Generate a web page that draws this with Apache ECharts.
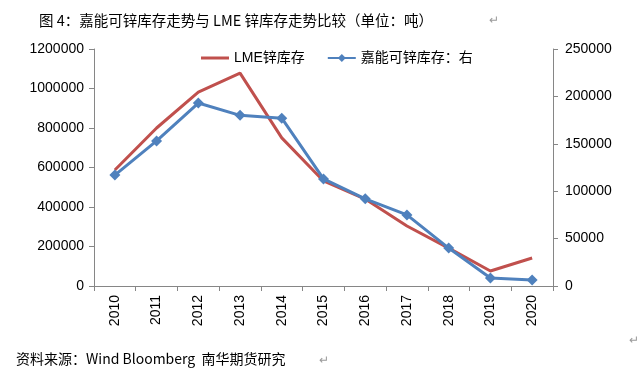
<!DOCTYPE html>
<html><head><meta charset="utf-8">
<script src="https://cdn.jsdelivr.net/npm/echarts@6/dist/echarts.min.js"></script>
<style>html,body{margin:0;padding:0;background:#fff}#c{width:643px;height:371px}</style>
</head><body><div id="c"></div>
<script>
var years = ['2010','2011','2012','2013','2014','2015','2016','2017','2018','2019','2020'];
var lmeStock = [587000, 800000, 982000, 1078000, 750000, 532000, 440000, 304000, 192000, 76000, 142000];
var glencoreStock = [117000, 153000, 193000, 180000, 177000, 113000, 92000, 75000, 40000, 8400, 6300];
var leftTicks = [0, 1200000, 200000];
var rightTicks = [0, 250000, 50000];

var chart = echarts.init(document.getElementById('c'));
var font = '"Liberation Sans", Arial, "Noto Sans CJK SC", sans-serif';
function plain(v) { return String(v); }
chart.setOption({
  animation: false,
  backgroundColor: '#fff',
  textStyle: {fontFamily: font},
  title: [
    {text: '图 4：嘉能可锌库存走势与 LME 锌库存走势比较（单位：吨）', left: 34, top: 8,
     textStyle: {fontSize: 14.5, fontWeight: 'normal', color: '#000', fontFamily: '"Noto Sans CJK SC", sans-serif'}},
    {text: '↵', left: 484, top: 10, textStyle: {fontSize: 12, fontWeight: 'normal', color: '#999'}},
    {text: '资料来源：Wind Bloomberg  南华期货研究', left: 11, top: 347,
     textStyle: {fontSize: 14, fontWeight: 'normal', color: '#000', fontFamily: '"Noto Sans CJK SC", sans-serif'}},
    {text: '↵', left: 314, top: 350, textStyle: {fontSize: 12, fontWeight: 'normal', color: '#999'}},
    {text: '↵', left: 624, top: 330, textStyle: {fontSize: 12, fontWeight: 'normal', color: '#999'}}
  ],
  legend: {
    top: 46, left: 196, itemGap: 22, itemWidth: 28, itemHeight: 10,
    textStyle: {fontSize: 14, color: '#000', fontFamily: font},
    data: [{name: 'LME锌库存', icon: 'path://M0,4 L28,4 L28,7 L0,7 Z'}, {name: '嘉能可锌库存：右'}]
  },
  grid: {left: 94, right: 90, top: 49, bottom: 85},
  xAxis: {
    type: 'category', data: years, boundaryGap: true,
    axisLine: {lineStyle: {color: '#868686'}},
    axisTick: {show: true, length: 5, interval: 0, lineStyle: {color: '#868686'}},
    axisLabel: {rotate: 90, color: '#000', fontSize: 14, margin: 9, interval: 0}
  },
  yAxis: [
    {type: 'value', min: leftTicks[0], max: leftTicks[1], interval: leftTicks[2],
     axisLine: {show: true, lineStyle: {color: '#868686'}},
     axisTick: {show: true, length: 5, lineStyle: {color: '#868686'}},
     splitLine: {show: false},
     axisLabel: {color: '#000', fontSize: 14, margin: 10, formatter: plain}},
    {type: 'value', min: rightTicks[0], max: rightTicks[1], interval: rightTicks[2], position: 'right',
     axisLine: {show: true, lineStyle: {color: '#868686'}},
     axisTick: {show: true, length: 5, lineStyle: {color: '#868686'}},
     splitLine: {show: false},
     axisLabel: {color: '#000', fontSize: 14, margin: 12, formatter: plain}}
  ],
  series: [
    {name: 'LME锌库存', type: 'line', yAxisIndex: 0, data: lmeStock,
     symbol: 'none', lineStyle: {color: '#C0504D', width: 3}, itemStyle: {color: '#C0504D'}},
    {name: '嘉能可锌库存：右', type: 'line', yAxisIndex: 1, data: glencoreStock,
     symbol: 'diamond', symbolSize: 11, lineStyle: {color: '#4F81BD', width: 3},
     itemStyle: {color: '#4F81BD'}}
  ]
});
</script></body></html>
